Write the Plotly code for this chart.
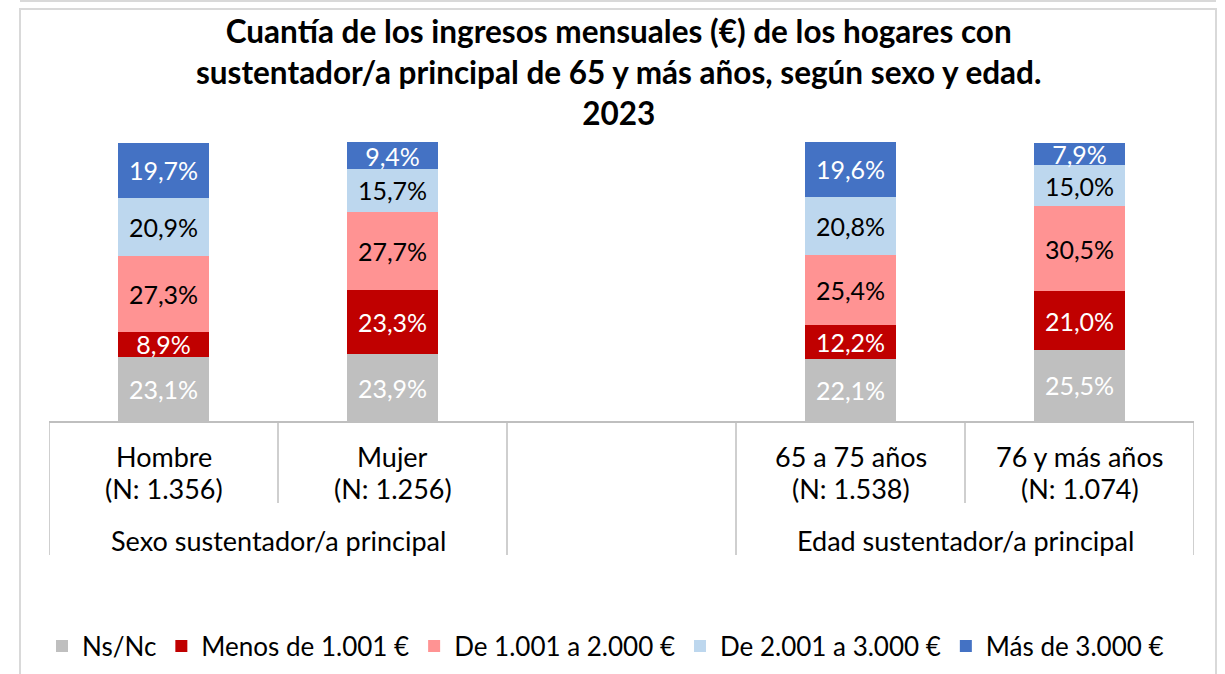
import plotly.graph_objects as go

# ---------------- data ----------------
categories = ["Hombre<br>(N: 1.356)", "Mujer<br>(N: 1.256)", " ",
              "65 a 75 años<br>(N: 1.538)", "76 y más años<br>(N: 1.074)"]
groups = ["Sexo sustentador/a principal", "Edad sustentador/a principal"]

series_names = ["Ns/Nc", "Menos de 1.001 €", "De 1.001 a 2.000 €",
                "De 2.001 a 3.000 €", "Más de 3.000 €"]
ns_nc      = [23.1, 23.9, None, 22.1, 25.5]
menos_1001 = [8.9, 23.3, None, 12.2, 21.0]
de_1001    = [27.3, 27.7, None, 25.4, 30.5]
de_2001    = [20.9, 15.7, None, 20.8, 15.0]
mas_3000   = [19.7, 9.4, None, 19.6, 7.9]
series_values = [ns_nc, menos_1001, de_1001, de_2001, mas_3000]

colors = ["#BFBFBF", "#C00000", "#FF9393", "#BDD7EE", "#4472C4"]
label_colors = ["#FFFFFF", "#FFFFFF", "#000000", "#000000", "#FFFFFF"]

title_text = ("<b>Cuantía de los ingresos mensuales (€) de los hogares con<br>"
              "sustentador/a principal de 65 y más años, según sexo y edad.<br>"
              "2023</b>")

FONT = "Lato"

# ---------------- layout geometry (pixels) ----------------
W, H = 1225, 674
ML, MR, MT, MB = 49, 31, 142, 253
PW = W - ML - MR
PH = H - MT - MB


def px_y(py):
    """pixel y (from top of page) -> paper y"""
    return (H - MB - py) / PH


def px_x(px):
    return (px - ML) / PW


def fmt(v):
    return "" if v is None else f"{v:.1f}".replace(".", ",") + "%"


fig = go.Figure()
for name, vals, col, lcol in zip(series_names, series_values, colors, label_colors):
    fig.add_trace(go.Bar(
        name=name,
        x=categories,
        y=vals,
        marker=dict(color=col, line=dict(width=0)),
        width=0.4,
        text=[fmt(v) for v in vals],
        textposition="inside",
        insidetextanchor="middle",
        textangle=0,
        textfont=dict(family=FONT, size=25, color=lcol),
        constraintext="none",
        cliponaxis=False,
        hoverinfo="skip",
    ))

shapes = []
# divider lines of the category axis
inner = [0.5, 3.5]
outer = [-0.5, 1.5, 2.5, 4.5]
for xv in inner:
    shapes.append(dict(type="line", xref="x", yref="paper", x0=xv, x1=xv,
                       y0=0, y1=px_y(503), line=dict(color="#BFBFBF", width=1.5)))
for xv in outer:
    shapes.append(dict(type="line", xref="x", yref="paper", x0=xv, x1=xv,
                       y0=0, y1=px_y(555), line=dict(color="#BFBFBF", width=1.5)))
# chart frame
shapes.append(dict(type="rect", xref="paper", yref="paper",
                   x0=px_x(20), x1=px_x(1216), y0=px_y(700), y1=px_y(9),
                   line=dict(color="#D9D9D9", width=2), layer="below"))
shapes.append(dict(type="line", xref="paper", yref="paper",
                   x0=px_x(20), x1=px_x(1216), y0=px_y(1), y1=px_y(1),
                   line=dict(color="#D9D9D9", width=2), layer="below"))

LBL = dict(family=FONT, size=27, color="#000000")
annotations = []
for c in categories:
    if c.strip():
        first, second = c.split("<br>")
        annotations.append(dict(x=c, xref="x", y=px_y(456), yref="paper",
                                text=first, showarrow=False, yanchor="middle", font=LBL))
        annotations.append(dict(x=c, xref="x", y=px_y(488), yref="paper",
                                text=second, showarrow=False, yanchor="middle", font=LBL))
annotations.append(dict(x=0.5, xref="x", y=px_y(540), yref="paper", text=groups[0],
                        showarrow=False, yanchor="middle", font=LBL))
annotations.append(dict(x=3.5, xref="x", y=px_y(540), yref="paper", text=groups[1],
                        showarrow=False, yanchor="middle", font=LBL))
annotations.append(dict(x=px_x(618), xref="paper", y=px_y(72), yref="paper",
                        text=title_text, showarrow=False, yanchor="middle",
                        font=dict(family=FONT, size=31.5, color="#000000")))

fig.update_layout(
    width=W, height=H,
    margin=dict(l=ML, r=MR, t=MT, b=MB, pad=0, autoexpand=False),
    barmode="stack",
    plot_bgcolor="#FFFFFF",
    paper_bgcolor="#FFFFFF",
    font=dict(family=FONT, size=27, color="#000000"),
    uniformtext=dict(minsize=25, mode="show"),
    showlegend=True,
    legend=dict(orientation="h", xref="container", x=42 / W, xanchor="left",
                yref="container", y=(H - 646) / H, yanchor="middle",
                font=dict(family=FONT, size=26, color="#000000"),
                itemwidth=30, traceorder="normal", bgcolor="rgba(0,0,0,0)",
                borderwidth=0),
    xaxis=dict(type="category", categoryorder="array", categoryarray=categories,
               showticklabels=False, showgrid=False, zeroline=False,
               showline=True, linecolor="#BFBFBF", linewidth=1.5,
               ticks="", fixedrange=True, range=[-0.5, 4.5]),
    yaxis=dict(range=[0, 100.15], visible=False, showgrid=False, zeroline=False,
               fixedrange=True),
    shapes=shapes,
    annotations=annotations,
)

fig.write_html("out.html", config={"displayModeBar": False},
               post_script="document.body.style.margin='0';")
